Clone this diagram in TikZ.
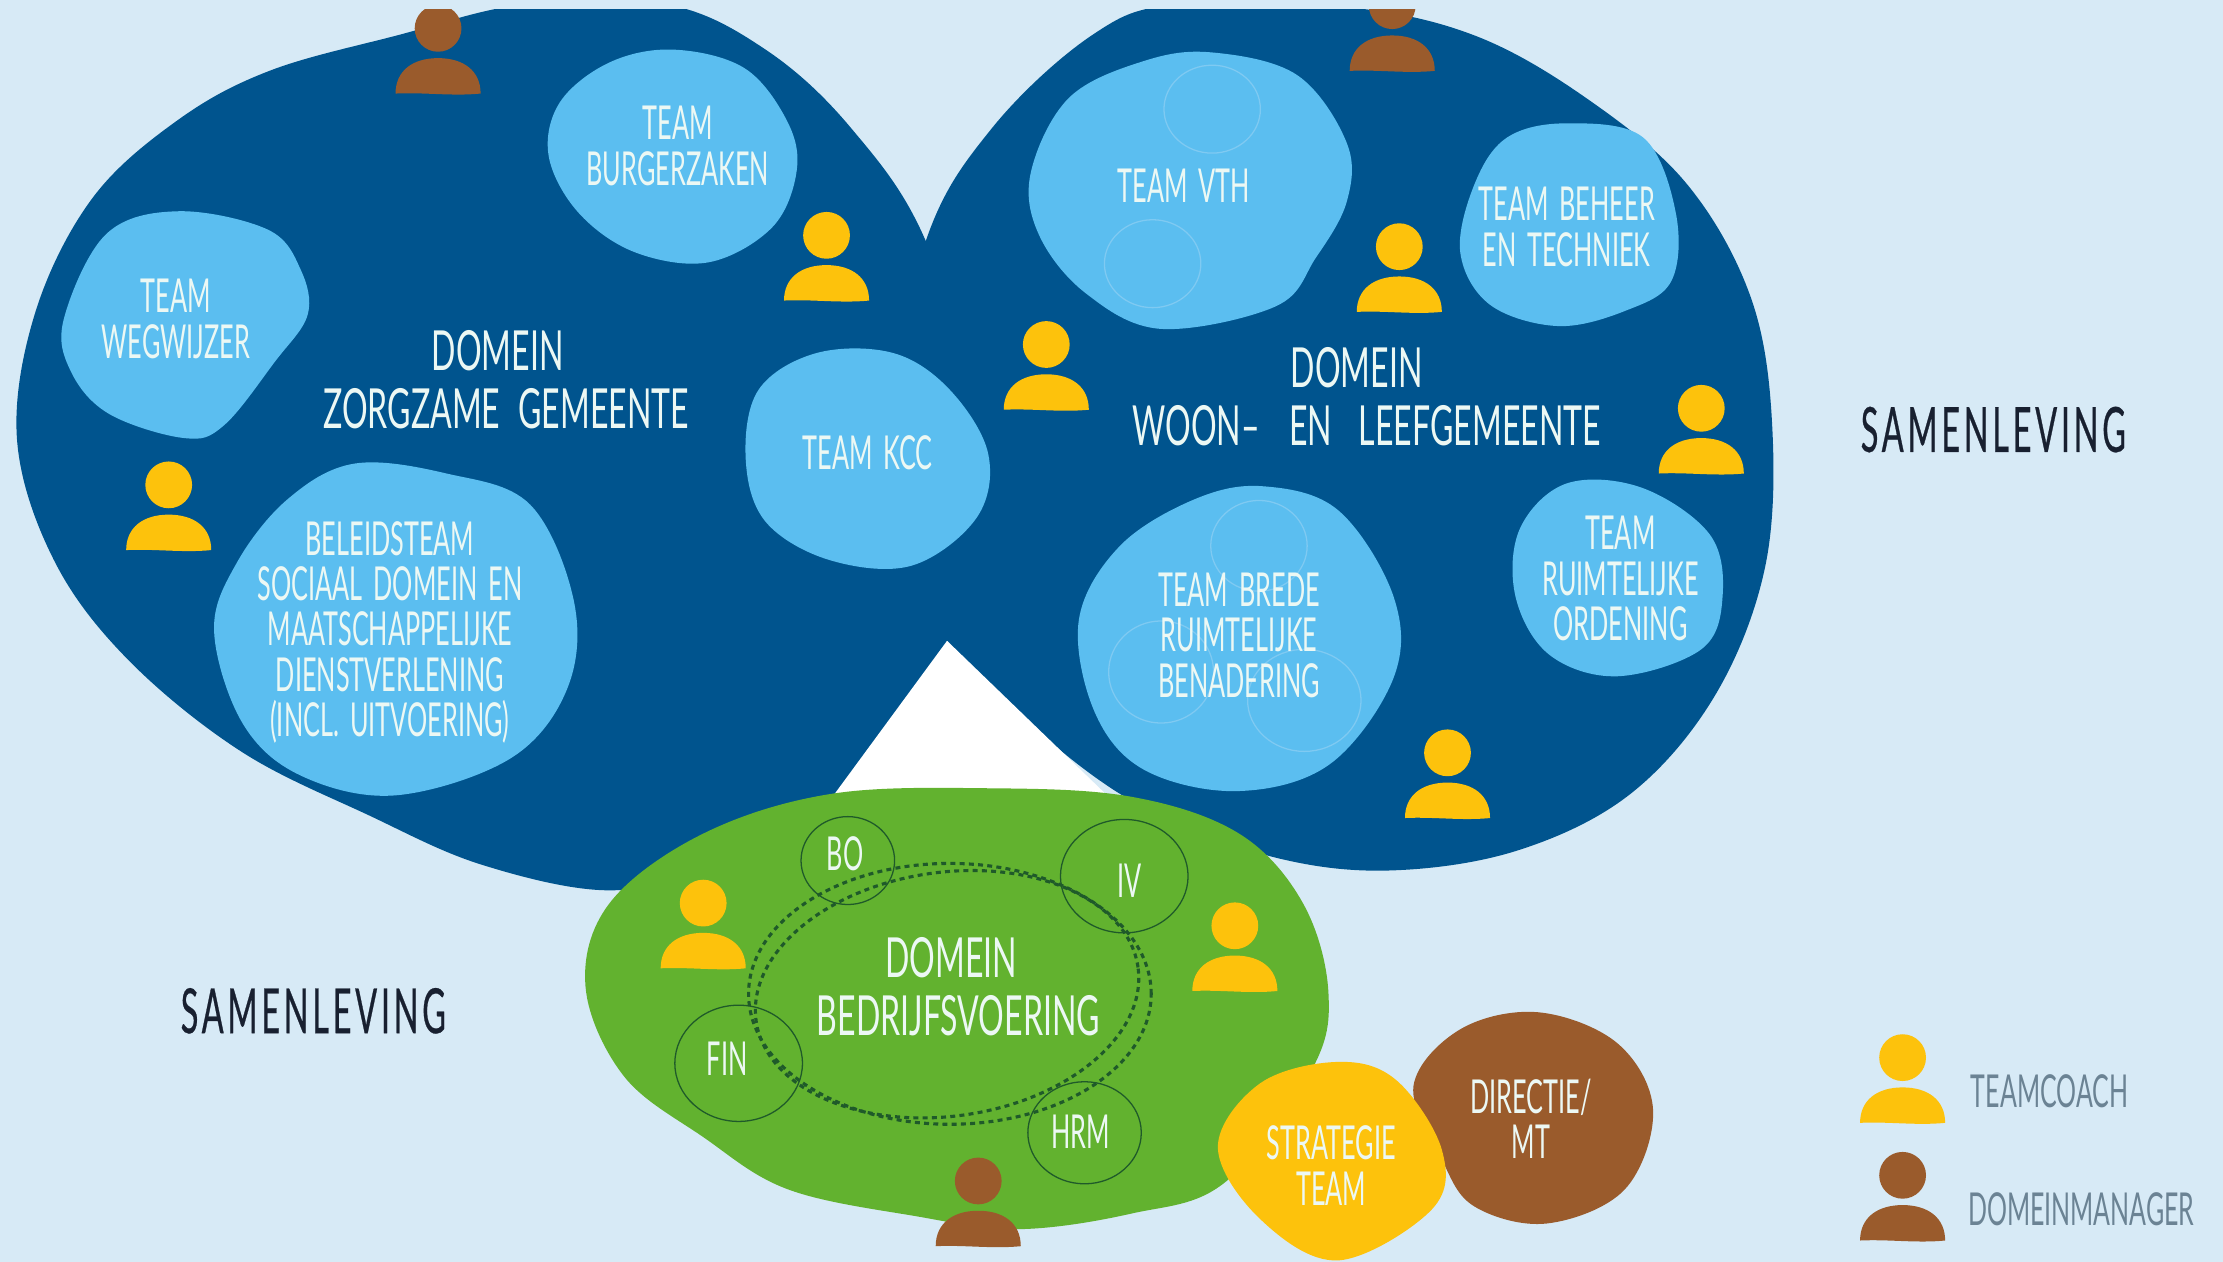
\documentclass[tikz,border=0pt]{standalone}
\usepackage{fontspec}
\setmainfont{Lato}
\newfontfamily\hand{Lato}[FakeStretch=0.54,WordSpace=1.7]
\newfontfamily\handdom{Lato}[FakeStretch=0.58,WordSpace=2.2]
\newfontfamily\handleg{Lato}[FakeStretch=0.55]
\newfontfamily\handwide{Lato}[FakeStretch=0.52,LetterSpace=6,FakeBold=0.4]
\usetikzlibrary{shapes.geometric}
\definecolor{bgblue}{HTML}{D7EAF6}
\definecolor{darkblue}{HTML}{00548E}
\definecolor{lightblue}{HTML}{5BBEF0}
\definecolor{faintline}{HTML}{7FCAF2}
\definecolor{grassgreen}{HTML}{62B22F}
\definecolor{ringgreen}{HTML}{1F5A2A}
\definecolor{coachyellow}{HTML}{FDC20C}
\definecolor{managerbrown}{HTML}{9A5B2C}
\definecolor{softwhite}{HTML}{ECF8F4}
\definecolor{inkblack}{HTML}{182030}
\definecolor{legendgray}{HTML}{6B8394}
\tikzset{
  x=1pt,y=-1pt,
  domainblob/.style={fill=darkblue},
  teamblob/.style={fill=lightblue},
  faintring/.style={draw=faintline,line width=0.9pt},
  subring/.style={draw=ringgreen,line width=0.9pt},
  dashring/.style={draw=ringgreen,line width=2.2pt,dash pattern=on 3.5pt off 3pt},
  teamlabel/.style={text=softwhite,align=center,inner sep=0pt,font=\hand\fontsize{33}{32}\selectfont},
  domainlabel/.style={text=softwhite,align=center,inner sep=0pt,font=\handdom\fontsize{39}{41}\selectfont},
  worldlabel/.style={text=inkblack,inner sep=0pt,font=\handwide\fontsize{44}{44}\selectfont},
  legendlabel/.style={text=legendgray,inner sep=0pt,font=\handleg\fontsize{32}{34}\selectfont},
  pics/person/.style={code={
    \fill[#1] (0,0) circle (16.5pt);
    \fill[#1] (-30,46) .. controls (-30,30) and (-18,21) .. (0,21)
      .. controls (18,21) and (30,30) .. (30,46)
      .. controls (10,48) and (-10,45) .. cycle;
  }}
}
\begin{document}
\begin{tikzpicture}
\useasboundingbox (0,0) rectangle (1568,890);
\fill[bgblue] (0,0) rectangle (1568,890);
\begin{scope}
\clip (0,7) rectangle (1568,890);
% left domain
\fill[domainblob] plot[smooth cycle,tension=0.6] coordinates {
 (370,3) (470,3) (540,35) (600,90) (653,170) (695,310) (668,452) (630,507) (585,565)
 (500,610) (430,628) (340,610) (260,575) (170,530) (90,465) (38,395) (12,310)
 (25,220) (65,140) (125,85) (190,50) (280,25)};
% right domain
\fill[domainblob] plot[smooth cycle,tension=0.6] coordinates {
 (830,3) (950,5) (1040,25) (1120,70) (1190,130) (1235,210) (1250,300) (1245,400)
 (1210,490) (1150,560) (1070,600) (980,614) (900,605) (820,575) (775,550) (720,505) (668,452)
 (625,310) (653,170) (700,90) (770,25)};
\pic at (309,20) {person=managerbrown};
\pic at (982,4) {person=managerbrown};
\end{scope}
% white gap
\fill[white] (668,452) -- (785,565) -- (585,565) -- cycle;
% team blobs
\fill[teamblob] plot[smooth cycle,tension=0.6] coordinates {(475,35) (525,48) (555,85) (562,120) (545,160) (500,185) (448,178) (408,150) (387,110) (395,72) (430,44)};
\fill[teamblob] plot[smooth cycle,tension=0.6] coordinates {(45,225) (75,165) (126,149) (189,162) (212,190) (217,222) (194,255) (158,300) (130,309) (77,292) (50,262)};
\fill[teamblob] plot[smooth cycle,tension=0.6] coordinates {(250,327) (315,334) (374,356) (405,425) (400,486) (360,535) (279,561) (212,547) (171,510) (151,445) (167,397) (203,352)};
\fill[teamblob] plot[smooth cycle,tension=0.6] coordinates {(576,249) (630,249) (670,275) (697,320) (689,365) (643,399) (585,395) (540,368) (526,324) (535,275)};
\fill[teamblob] plot[smooth cycle,tension=0.6] coordinates {(855,37) (915,53) (950,101) (950,142) (928,182) (900,216) (819,232) (766,207) (733,166) (727,122) (754,69) (807,43)};
\fill[teamblob] plot[smooth cycle,tension=0.6] coordinates {(1105,87) (1159,97) (1182,150) (1179,198) (1147,219) (1099,230) (1051,215) (1030,178) (1040,130) (1063,97)};
\fill[teamblob] plot[smooth cycle,tension=0.6] coordinates {(891,343) (944,360) (983,421) (983,478) (938,539) (873,558) (807,543) (772,502) (761,437) (790,385) (843,352)};
\fill[teamblob] plot[smooth cycle,tension=0.6] coordinates {(1105,341) (1158,344) (1206,377) (1215,421) (1200,458) (1141,477) (1093,462) (1069,421) (1072,373)};
% faint rings
\draw[faintring] (855,77) ellipse (34pt and 31pt);
\draw[faintring] (813,186) ellipse (34pt and 31pt);
\draw[faintring] (888,385) ellipse (34pt and 32pt);
\draw[faintring] (819,474) ellipse (37pt and 36pt);
\draw[faintring] (920,494) ellipse (40pt and 36pt);
% green domain
\fill[grassgreen] plot[smooth cycle,tension=0.6] coordinates {(697,556) (798,562) (874,588) (919,637) (937,700) (925,755) (864,834) (798,856) (718,867) (647,858) (556,839) (496,802) (440,759) (413,696) (430,637) (496,588) (586,560)};
\draw[dashring] (670,701) ellipse (142pt and 92pt);
\draw[dashring,rotate around={8:(670,701)}] (668,701) ellipse (136pt and 86pt);
\draw[subring] (598,607) ellipse (33pt and 31pt);
\draw[subring] (793,618) ellipse (45pt and 40pt);
\draw[subring] (521,750) ellipse (45pt and 41pt);
\draw[subring] (765,799) ellipse (40pt and 36pt);
% leadership blobs
\fill[managerbrown] plot[smooth cycle,tension=0.6] coordinates {(1085,714) (1141,736) (1166,783) (1146,839) (1091,863) (1040,851) (1017,818) (997,766) (1030,726)};
\fill[coachyellow] plot[smooth cycle,tension=0.6] coordinates {(944,749) (985,762) (1017,811) (1010,853) (944,889) (889,860) (859,809) (889,764)};
% persons
\pic at (583,166) {person=coachyellow};
\pic at (119,342) {person=coachyellow};
\pic at (987,174) {person=coachyellow};
\pic at (738,243) {person=coachyellow};
\pic at (1200,288) {person=coachyellow};
\pic at (1021,531) {person=coachyellow};
\pic at (496,637) {person=coachyellow};
\pic at (871,653) {person=coachyellow};
\pic at (690,833) {person=managerbrown};
\pic at (1342,746) {person=coachyellow};
\pic at (1342,829) {person=managerbrown};
% labels
\node[domainlabel] (zorg) at (357,268) {DOMEIN\hspace*{12pt}\\ZORGZAME GEMEENTE};
\node[domainlabel] (woon) at (964,280) {DOMEIN\hspace*{14pt}\\WOON–\hspace{8pt} EN\hspace{6pt} LEEFGEMEENTE};
\node[domainlabel] (bedrijf) at (676,696) {DOMEIN\hspace*{10pt}\\BEDRIJFSVOERING};
\node[teamlabel] (burger) at (478,103) {TEAM\\BURGERZAKEN};
\node[teamlabel] (wegw) at (124,225) {TEAM\\WEGWIJZER};
\node[teamlabel] (beleid) at (275,446) {BELEIDSTEAM\\SOCIAAL DOMEIN EN\\MAATSCHAPPELIJKE\\DIENSTVERLENING\\(INCL. UITVOERING)};
\node[teamlabel] (kcc) at (612,319) {TEAM KCC};
\node[teamlabel] (vth) at (835,131) {TEAM VTH};
\node[teamlabel] (beheer) at (1105,160) {TEAM BEHEER\\EN TECHNIEK};
\node[teamlabel] (brede) at (874,448) {TEAM BREDE\\RUIMTELIJKE\\BENADERING};
\node[teamlabel] (ruimte) at (1143,408) {TEAM\\RUIMTELIJKE\\ORDENING};
\node[teamlabel] (bo) at (596,602) {BO};
\node[teamlabel] (iv) at (797,621) {IV};
\node[teamlabel] (fin) at (513,747) {FIN};
\node[teamlabel] (hrm) at (762,798) {HRM};
\node[teamlabel] (strat) at (939,822) {STRATEGIE\\TEAM};
\node[teamlabel] (dir) at (1080,789) {DIRECTIE/\\MT};
\node[worldlabel] (samenr) at (1406,303) {SAMENLEVING};
\node[worldlabel] (samenl) at (221,713) {SAMENLEVING};
\node[legendlabel,anchor=west] (coach) at (1390,770) {TEAMCOACH};
\node[legendlabel,anchor=west] (manager) at (1388,853) {DOMEINMANAGER};
\end{tikzpicture}
\end{document}
